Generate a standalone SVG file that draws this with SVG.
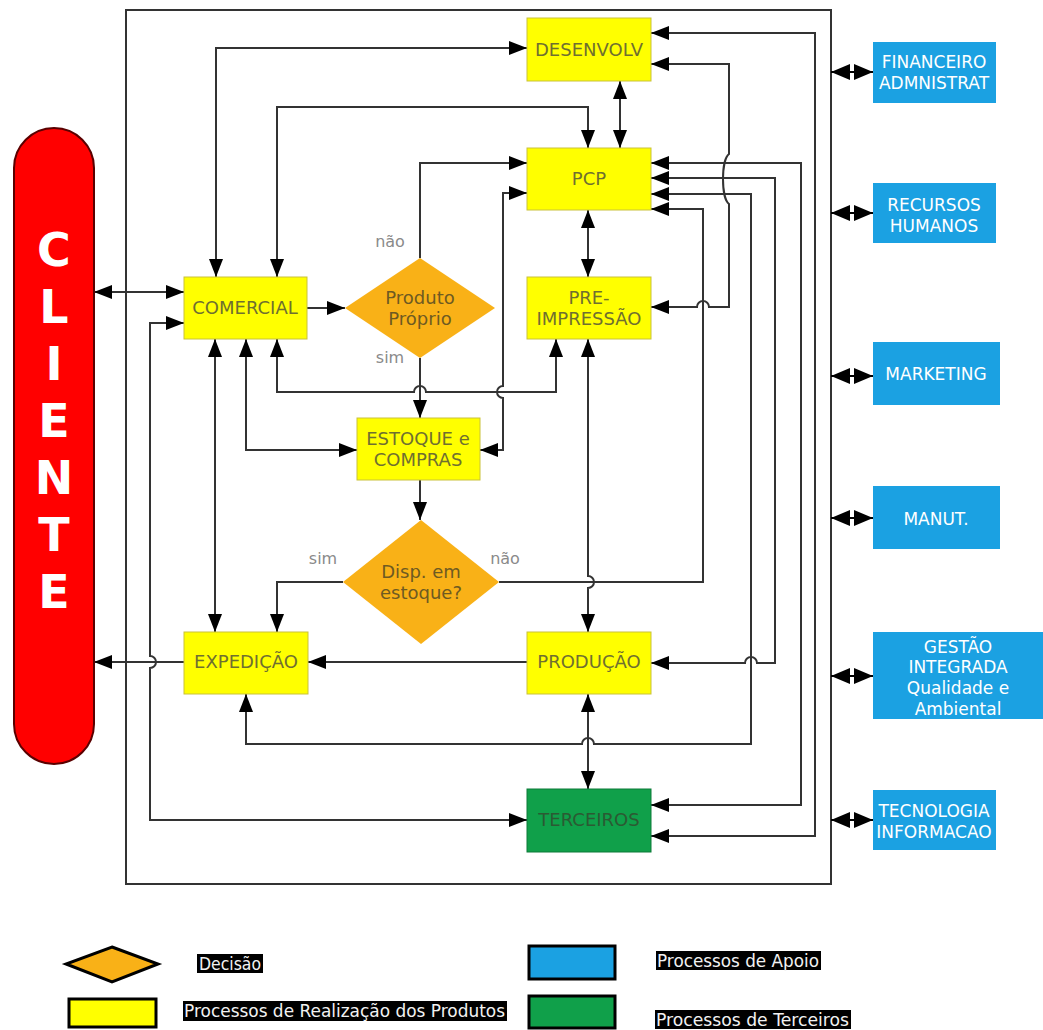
<svg xmlns="http://www.w3.org/2000/svg" width="1043" height="1030" viewBox="0 0 1043 1030">
<defs>
<marker id="ah" markerUnits="userSpaceOnUse" markerWidth="18" markerHeight="14" refX="18" refY="7" orient="auto-start-reverse" viewBox="0 0 18 14"><path d="M0,0 L18,7 L0,14 z" fill="#000"/></marker>
<marker id="sh" markerUnits="userSpaceOnUse" markerWidth="19" markerHeight="16" refX="19" refY="8" orient="auto-start-reverse" viewBox="0 0 19 16"><path d="M0,0 L19,8 L0,16 z" fill="#000"/></marker>
<style>
.c{fill:none;stroke:#333;stroke-width:2;marker-end:url(#ah)}
.d{marker-start:url(#ah)}
.s{fill:none;stroke:#000;stroke-width:2;marker-start:url(#sh);marker-end:url(#sh)}
.y{fill:#ffff00;stroke:#c9c23a;stroke-width:1}
.o{fill:#f9b117}
.b{fill:#1ba1e2}
.g{fill:#10a04a;stroke:#0c7a38;stroke-width:1}
.t{font-family:"DejaVu Sans","Liberation Sans",sans-serif;font-size:18px;text-anchor:middle;fill:#6f6f30}
.to{fill:#6e5a22}
.tg{fill:#2b5a33}
.tw{font-family:"DejaVu Sans","Liberation Sans",sans-serif;font-size:17px;text-anchor:middle;fill:#ffffff}
.lb{font-family:"DejaVu Sans","Liberation Sans",sans-serif;font-size:16px;fill:#8a8a8a;text-anchor:middle}
.cl{font-family:"DejaVu Sans","Liberation Sans",sans-serif;font-size:46px;font-weight:bold;fill:#ffffff;text-anchor:middle}
.lg{font-family:"DejaVu Sans","Liberation Sans",sans-serif;font-size:17px;fill:#f2f2f2}
</style>
</defs>
<rect width="1043" height="1030" fill="#ffffff"/>
<rect x="126" y="10" width="705" height="874" fill="none" stroke="#333" stroke-width="2"/>

<g id="connectors">
<path class="c d" d="M94,292 H184"/>
<path class="c" d="M184,662 H94"/>
<path class="c d" d="M184,323 H150 V656 a6,6 0 0 1 0,12 V820 H527"/>
<path class="c d" d="M216,277 V48 H527"/>
<path class="c d" d="M277,277 V107 H588 V148"/>
<path class="c" d="M307,308 H345"/>
<path class="c" d="M420,258 V163 H527"/>
<path class="c" d="M420,358 V418"/>
<path class="c d" d="M480,450 H503 V398 a6,6 0 0 1 0,-12 V193 H527"/>
<path class="c d" d="M277,339 V392 H414 a6,6 0 0 1 12,0 H556 V339"/>
<path class="c d" d="M246,339 V450 H357"/>
<path class="c d" d="M215,339 V632"/>
<path class="c" d="M420,480 V520"/>
<path class="c" d="M343,582 H277 V632"/>
<path class="c" d="M499,582 H703 V209 H651"/>
<path class="c d" d="M620,81 V148"/>
<path class="c d" d="M588,210 V277"/>
<path class="c d" d="M588,339 V576 a6,6 0 0 1 0,12 V632"/>
<path class="c" d="M527,662 H308"/>
<path class="c d" d="M588,694 V789"/>
<path class="c d" d="M246,694 V744 H582 a6,6 0 0 1 12,0 H751 V194 H651"/>
<path class="c d" d="M651,663 H745 a6,6 0 0 1 12,0 H775 V178 H651"/>
<path class="c d" d="M651,805 H801 V163 H651"/>
<path class="c d" d="M651,836 H815 V33 H651"/>
<path class="c d" d="M651,307 H697 a6,6 0 0 1 12,0 H729 V204 C721,198 721,160 729,154 V64 H651"/>
<path class="s" d="M831,72 H873"/>
<path class="s" d="M831,213 H873"/>
<path class="s" d="M831,376 H873"/>
<path class="s" d="M831,518 H873"/>
<path class="s" d="M831,676 H873"/>
<path class="s" d="M831,820 H873"/>
</g>

<g id="cliente">
<rect x="14" y="128" width="80" height="636" rx="40" ry="40" fill="#ff0000" stroke="#5a0000" stroke-width="2"/>
<text class="cl" x="54" y="266">C</text>
<text class="cl" x="54" y="323">L</text>
<text class="cl" x="54" y="380">I</text>
<text class="cl" x="54" y="437">E</text>
<text class="cl" x="54" y="494">N</text>
<text class="cl" x="54" y="551">T</text>
<text class="cl" x="54" y="608">E</text>
</g>

<g id="desenvolv"><rect class="y" x="527" y="18" width="124" height="63"/><text class="t" x="589" y="56">DESENVOLV</text></g>
<g id="pcp"><rect class="y" x="527" y="148" width="124" height="62"/><text class="t" x="589" y="185">PCP</text></g>
<g id="pre-impressao"><rect class="y" x="527" y="277" width="124" height="62"/><text class="t" x="589" y="304">PRE-</text><text class="t" x="589" y="325">IMPRESSÃO</text></g>
<g id="comercial"><rect class="y" x="184" y="277" width="123" height="62"/><text class="t" x="245" y="314">COMERCIAL</text></g>
<g id="produto-proprio"><polygon class="o" points="420,258 495,308 420,358 345,308"/><text class="t to" x="420" y="304">Produto</text><text class="t to" x="420" y="325">Próprio</text></g>
<g id="estoque"><rect class="y" x="357" y="418" width="123" height="62"/><text class="t" x="418" y="445">ESTOQUE e</text><text class="t" x="418" y="466">COMPRAS</text></g>
<g id="disp-estoque"><polygon class="o" points="421,520 499,582 421,644 343,582"/><text class="t to" x="421" y="578">Disp. em</text><text class="t to" x="421" y="599">estoque?</text></g>
<g id="expedicao"><rect class="y" x="184" y="632" width="124" height="62"/><text class="t" x="246" y="668">EXPEDIÇÃO</text></g>
<g id="producao"><rect class="y" x="527" y="632" width="124" height="62"/><text class="t" x="589" y="668">PRODUÇÃO</text></g>
<g id="terceiros"><rect class="g" x="527" y="789" width="124" height="63"/><text class="t tg" x="589" y="826">TERCEIROS</text></g>

<g id="labels">
<text class="lb" x="390" y="247">não</text>
<text class="lb" x="390" y="363">sim</text>
<text class="lb" x="323" y="564">sim</text>
<text class="lb" x="505" y="564">não</text>
</g>

<g id="financeiro"><rect class="b" x="873" y="42" width="123" height="61"/><text class="tw" x="934" y="68">FINANCEIRO</text><text class="tw" x="934" y="89">ADMNISTRAT</text></g>
<g id="rh"><rect class="b" x="873" y="183" width="123" height="60"/><text class="tw" x="934" y="211">RECURSOS</text><text class="tw" x="934" y="232">HUMANOS</text></g>
<g id="marketing"><rect class="b" x="873" y="342" width="127" height="63"/><text class="tw" x="936" y="380">MARKETING</text></g>
<g id="manut"><rect class="b" x="873" y="486" width="127" height="63"/><text class="tw" x="936" y="525">MANUT.</text></g>
<g id="gestao"><rect class="b" x="873" y="632" width="170" height="87"/><text class="tw" x="958" y="653">GESTÃO</text><text class="tw" x="958" y="673">INTEGRADA</text><text class="tw" x="958" y="694">Qualidade e</text><text class="tw" x="958" y="715">Ambiental</text></g>
<g id="tecnologia"><rect class="b" x="873" y="790" width="123" height="60"/><text class="tw" x="934" y="817">TECNOLOGIA</text><text class="tw" x="934" y="838">INFORMACAO</text></g>

<g id="legend">
<polygon points="112,947 158,964 112,982 66,964" fill="#f9b117" stroke="#000" stroke-width="3"/>
<rect x="69" y="999" width="87" height="28" fill="#ffff00" stroke="#000" stroke-width="3"/>
<rect x="529" y="946" width="86" height="33" fill="#1ba1e2" stroke="#000" stroke-width="3"/>
<rect x="529" y="996" width="86" height="32" fill="#10a04a" stroke="#000" stroke-width="3"/>
<rect x="197" y="954" width="66" height="19" fill="#000"/>
<text class="lg" x="199" y="970" textLength="62" lengthAdjust="spacingAndGlyphs">Decisão</text>
<rect x="183" y="1001" width="324" height="20" fill="#000"/>
<text class="lg" x="184" y="1017" textLength="321" lengthAdjust="spacingAndGlyphs">Processos de Realização dos Produtos</text>
<rect x="656" y="951" width="165" height="19" fill="#000"/>
<text class="lg" x="657" y="967" textLength="162" lengthAdjust="spacingAndGlyphs">Processos de Apoio</text>
<rect x="655" y="1010" width="196" height="19" fill="#000"/>
<text class="lg" x="656" y="1026" textLength="193" lengthAdjust="spacingAndGlyphs">Processos de Terceiros</text>
</g>
</svg>
